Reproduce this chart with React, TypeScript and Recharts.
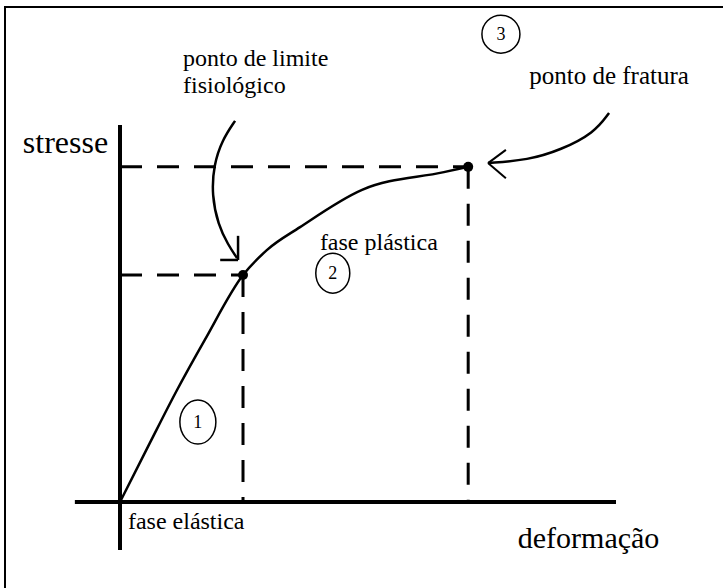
import React from "react";
import {
  ComposedChart,
  Line,
  Scatter,
  XAxis,
  YAxis,
  ReferenceLine,
  ReferenceDot,
} from "recharts";

// strain (deformação) vs stress (stresse), arbitrary units
const strain = [0, 6.0, 11.5, 17.1, 24.8, 29.6, 36.3, 48.8, 65.3, 70.2];
const stress = [0, 15.6, 29.7, 43.0, 60.2, 66.8, 72.9, 82.8, 87.5, 88.9];

// key points: limite fisiológico, fratura
const keyStrain = [24.8, 70.2];
const keyStress = [60.2, 88.9];

const curve = strain.map((s, i) => ({ strain: s, stress: stress[i] }));
const keyPoints = keyStrain.map((s, i) => ({ strain: s, stress: keyStress[i] }));

// annotation arrows (chart units)
const arrowLimite = [
  { strain: 23.2, stress: 101.1 },
  { strain: 20.6, stress: 96.0 },
  { strain: 18.9, stress: 89.4 },
  { strain: 18.5, stress: 81.4 },
  { strain: 19.8, stress: 73.5 },
  { strain: 21.8, stress: 68.2 },
  { strain: 23.6, stress: 64.7 },
];
const arrowFratura = [
  { strain: 98.6, stress: 103.2 },
  { strain: 95.6, stress: 97.9 },
  { strain: 88.9, stress: 93.4 },
  { strain: 82.3, stress: 90.7 },
  { strain: 74.2, stress: 89.9 },
];

const FONT = "Liberation Serif, Times New Roman, serif";

const textShape =
  (lines: string[], size: number, lineGap = 27) =>
  (p: any) =>
    (
      <text x={p.cx} y={p.cy} style={{ fontFamily: FONT, fontSize: size }} fill="#000">
        {lines.map((l, i) => (
          <tspan key={i} x={p.cx} dy={i === 0 ? 0 : lineGap}>
            {l}
          </tspan>
        ))}
      </text>
    );

const circleShape = (num: string, rx: number, ry: number) => (p: any) =>
  (
    <g>
      <ellipse cx={p.cx} cy={p.cy} rx={rx} ry={ry} fill="none" stroke="#000" strokeWidth={1.5} />
      <text
        x={p.cx}
        y={p.cy + 6}
        textAnchor="middle"
        style={{ fontFamily: FONT, fontSize: 18 }}
        fill="#000"
      >
        {num}
      </text>
    </g>
  );

const dotShape = (p: any) => <circle cx={p.cx} cy={p.cy} r={5} fill="#000" />;

export default function App() {
  const dash = "22 15";
  return (
    <div
      style={{
        position: "absolute",
        top: 0,
        left: 0,
        width: 723,
        height: 588,
        background: "#fff",
        overflow: "hidden",
      }}
    >
      <div
        style={{
          position: "absolute",
          left: 4,
          top: 6,
          width: 760,
          height: 640,
          borderLeft: "2px solid #000",
          borderTop: "2px solid #000",
        }}
      />
      <ComposedChart
        width={723}
        height={588}
        data={curve}
        margin={{ top: 87.3, right: 107, bottom: 86, left: 120 }}
        style={{ position: "absolute", top: 0, left: 0 }}
      >
        <XAxis type="number" dataKey="strain" domain={[0, 100]} hide />
        <YAxis type="number" domain={[0, 110]} hide />

        {/* axes */}
        <ReferenceLine
          segment={[{ x: 0, y: -12.7 }, { x: 0, y: 100 }]}
          stroke="#000"
          strokeWidth={4}
          ifOverflow="visible"
        />
        <ReferenceLine
          segment={[{ x: -9.1, y: 0 }, { x: 100, y: 0 }]}
          stroke="#000"
          strokeWidth={4}
          ifOverflow="visible"
        />

        {/* dashed guides */}
        {keyPoints.map((k, i) => (
          <ReferenceLine
            key={`h${i}`}
            segment={[{ x: 0, y: k.stress }, { x: k.strain, y: k.stress }]}
            stroke="#000"
            strokeWidth={3}
            strokeDasharray={dash}
            ifOverflow="visible"
          />
        ))}
        {keyPoints.map((k, i) => (
          <ReferenceLine
            key={`v${i}`}
            segment={[{ x: k.strain, y: k.stress }, { x: k.strain, y: 0 }]}
            stroke="#000"
            strokeWidth={3}
            strokeDasharray={dash}
            ifOverflow="visible"
          />
        ))}

        <Line
          dataKey="stress"
          type="monotone"
          stroke="#000"
          strokeWidth={2.5}
          dot={false}
          activeDot={false}
          isAnimationActive={false}
        />
        <Scatter data={keyPoints} dataKey="stress" shape={dotShape} isAnimationActive={false} />

        {/* arrows */}
        <Line
          data={arrowLimite}
          dataKey="stress"
          type="basis"
          stroke="#000"
          strokeWidth={2.5}
          dot={false}
          activeDot={false}
          isAnimationActive={false}
        />
        <Line
          data={arrowFratura}
          dataKey="stress"
          type="basis"
          stroke="#000"
          strokeWidth={2.5}
          dot={false}
          activeDot={false}
          isAnimationActive={false}
        />
        <ReferenceLine segment={[{ x: 23.8, y: 70.6 }, { x: 23.8, y: 64.2 }]} stroke="#000" strokeWidth={2.5} ifOverflow="visible" />
        <ReferenceLine segment={[{ x: 20.2, y: 64.2 }, { x: 23.8, y: 64.2 }]} stroke="#000" strokeWidth={2.5} ifOverflow="visible" />
        <ReferenceLine segment={[{ x: 74.2, y: 89.9 }, { x: 77.8, y: 93.4 }]} stroke="#000" strokeWidth={2} ifOverflow="visible" />
        <ReferenceLine segment={[{ x: 74.2, y: 89.9 }, { x: 77.8, y: 85.9 }]} stroke="#000" strokeWidth={2} ifOverflow="visible" />

        {/* labels */}
        <ReferenceDot x={12.7} y={115.6} r={0} ifOverflow="visible" shape={textShape(["ponto de limite", "fisiológico"], 24)} />
        <ReferenceDot x={-19.6} y={92.6} r={0} ifOverflow="visible" shape={textShape(["stresse"], 32)} />
        <ReferenceDot x={82.5} y={110.9} r={0} ifOverflow="visible" shape={textShape(["ponto de fratura"], 25)} />
        <ReferenceDot x={40.3} y={66.8} r={0} ifOverflow="visible" shape={textShape(["fase plástica"], 24)} />
        <ReferenceDot x={1.6} y={-7.2} r={0} ifOverflow="visible" shape={textShape(["fase elástica"], 24)} />
        <ReferenceDot x={80.2} y={-12.2} r={0} ifOverflow="visible" shape={textShape(["deformação"], 30)} />

        {/* phase numbers */}
        <ReferenceDot x={15.7} y={21.2} r={0} ifOverflow="visible" shape={circleShape("1", 18, 22)} />
        <ReferenceDot x={42.9} y={60.7} r={0} ifOverflow="visible" shape={circleShape("2", 17, 20)} />
        <ReferenceDot x={76.8} y={124.1} r={0} ifOverflow="visible" shape={circleShape("3", 19, 19)} />
      </ComposedChart>
    </div>
  );
}
